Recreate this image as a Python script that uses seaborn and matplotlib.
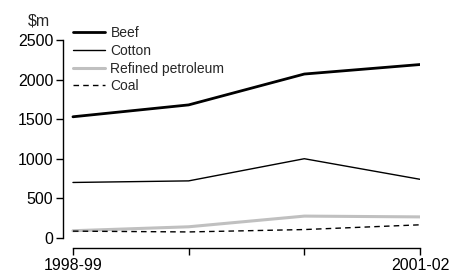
import matplotlib
matplotlib.use("Agg")
import matplotlib.pyplot as plt
import seaborn as sns
import pandas as pd

years = ["1998-99", "1999-00", "2000-01", "2001-02"]
beef = [1530, 1680, 2070, 2190]
cotton = [700, 720, 1000, 740]
petroleum = [90, 140, 275, 265]
coal = [85, 75, 105, 165]

sns.set_style("white")
plt.rcParams["font.family"] = ["Liberation Sans", "DejaVu Sans"]

df = pd.DataFrame({
    "x": list(range(len(years))) * 4,
    "value": beef + cotton + petroleum + coal,
    "series": ["Beef"] * 4 + ["Cotton"] * 4 + ["Refined petroleum"] * 4 + ["Coal"] * 4,
})

styles = {
    "Beef": dict(color="black", lw=2.0, ls="-"),
    "Cotton": dict(color="black", lw=1.0, ls="-"),
    "Refined petroleum": dict(color="#c0c0c0", lw=2.2, ls="-"),
    "Coal": dict(color="black", lw=1.0, ls=(0, (4, 3))),
}

fig = plt.figure(figsize=(4.49, 2.73), dpi=100)
ax = fig.add_axes([63 / 449, 1 - 248 / 273, (420 - 63) / 449, (248 - 40) / 273])

for name, st in styles.items():
    sub = df[df["series"] == name]
    sns.lineplot(data=sub, x="x", y="value", ax=ax, color=st["color"],
                 linewidth=st["lw"], linestyle=st["ls"], label=name)

ax.set_xlim(-0.086, 3)
ax.set_ylim(-128, 2500)
ax.set_xticks(range(4))
ax.set_xticklabels([years[0], "", "", years[-1]])
ax.set_yticks([0, 500, 1000, 1500, 2000, 2500])
ax.set_xlabel("")
ax.set_ylabel("")
sns.despine(ax=ax)
ax.spines["left"].set_bounds(0, 2500)
ax.spines["bottom"].set_bounds(0, 3)
for s in ("left", "bottom"):
    ax.spines[s].set_linewidth(1.0)
    ax.spines[s].set_color("black")
ax.tick_params(axis="both", direction="out", length=5, width=1, colors="black",
               labelsize=11.5, pad=2, bottom=True, left=True)

fig.text(28 / 449, 1 - 21 / 273, "\\$m", fontsize=11.5, va="center", ha="left")

leg = ax.legend(loc="upper left", bbox_to_anchor=(73 / 449, 1 - 26 / 273),
                bbox_transform=fig.transFigure, frameon=False, fontsize=10,
                handlelength=2.3, handletextpad=0.4, labelspacing=0.27,
                borderpad=0, borderaxespad=0)

fig.savefig("out.png", dpi=100)
